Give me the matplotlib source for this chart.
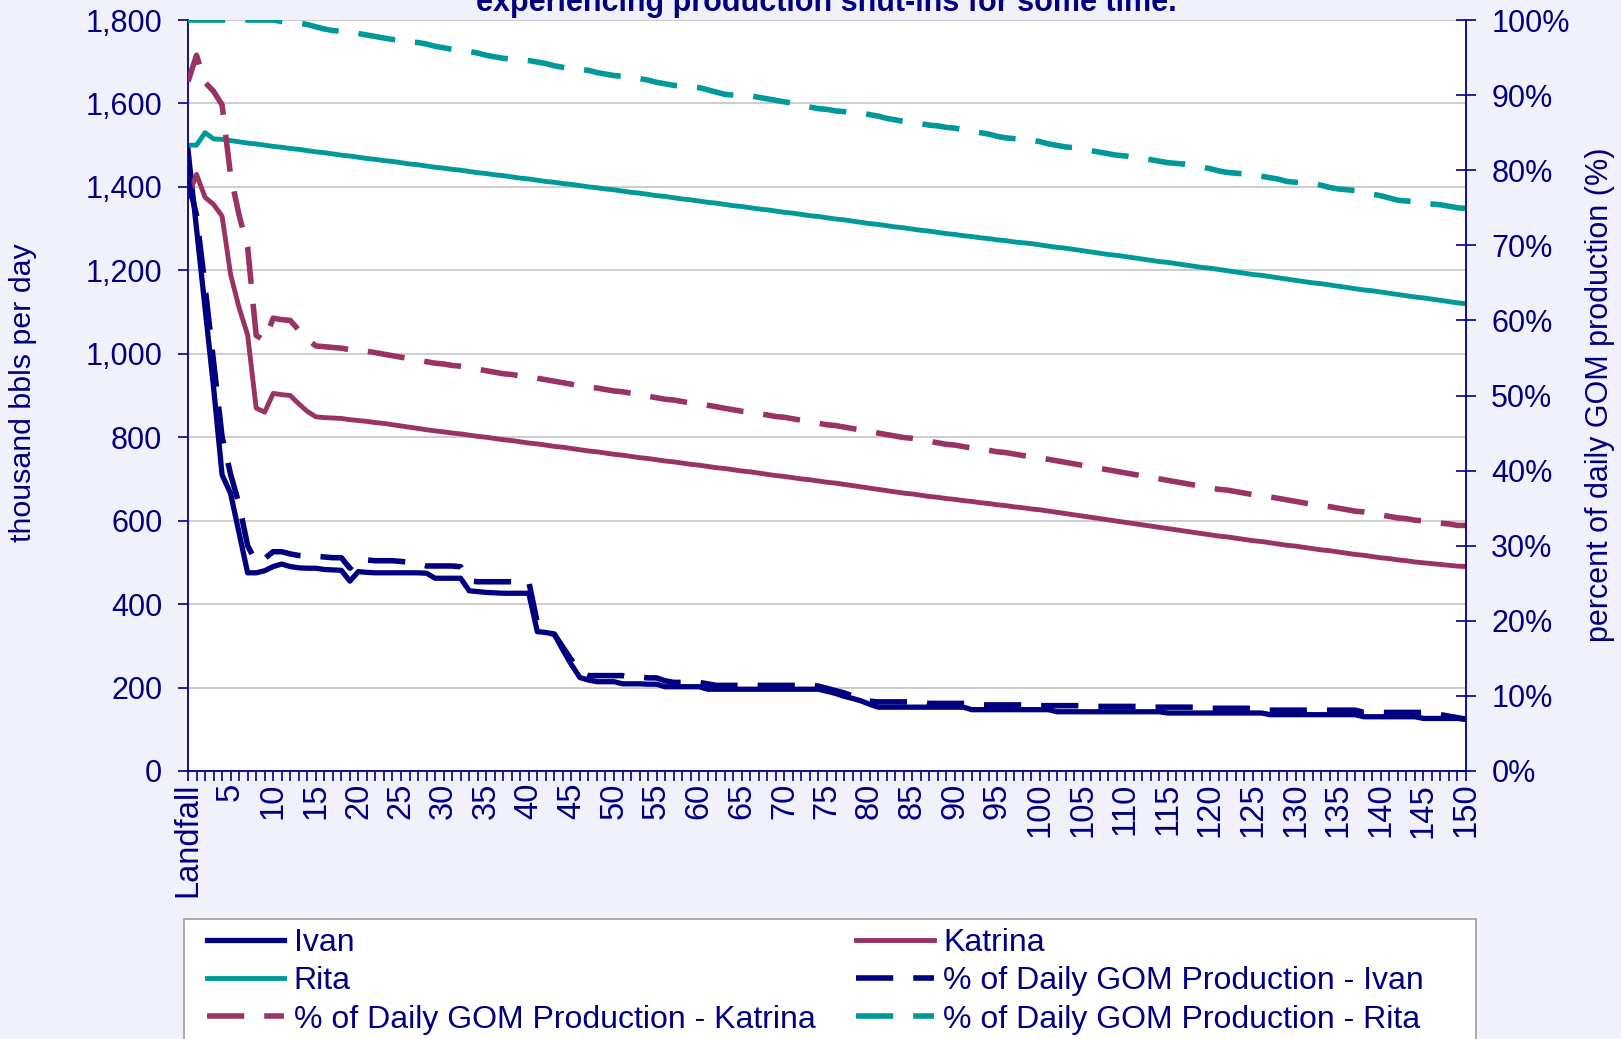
import matplotlib
matplotlib.use('Agg')
import matplotlib.pyplot as plt
from matplotlib.lines import Line2D
from matplotlib.patches import Rectangle

plt.rcParams['font.family'] = ['Liberation Sans', 'DejaVu Sans']

NAVY = '#000080'
PLUM = '#993366'
TEAL = '#009999'
BG = '#F1F1FC'

days = list(range(151))
tick_labels = ['Landfall'] + [str(d) if d % 5 == 0 else '' for d in range(1, 151)]

# thousand bbls per day
ivan = [1490, 1300, 1110, 920, 710, 665, 570, 475, 475, 480,
        490, 496, 490, 487, 486, 486, 483, 482, 481, 455,
        478, 476, 475, 475, 475, 475, 475, 475, 474, 462,
        462, 462, 462, 432, 430, 428, 427, 426, 426, 426,
        426, 334, 332, 328, 290, 255, 224, 218, 214, 214,
        214, 209, 209, 209, 208, 208, 202, 202, 202, 202,
        202, 196, 196, 196, 196, 196, 196, 196, 196, 196,
        196, 196, 196, 196, 196, 191, 186, 179, 174, 168,
        160, 153, 153, 153, 153, 153, 153, 153, 153, 153,
        153, 153, 147, 147, 147, 147, 147, 147, 147, 147,
        147, 147, 142, 142, 142, 142, 142, 142, 142, 142,
        142, 142, 142, 142, 142, 139, 139, 139, 139, 139,
        139, 139, 139, 139, 139, 139, 139, 135, 135, 135,
        135, 135, 135, 135, 135, 135, 135, 135, 130, 130,
        130, 130, 130, 130, 130, 126, 126, 126, 126, 126,
        124]

katrina = [1377, 1430, 1375, 1358, 1330, 1190, 1110, 1045, 870, 860,
           905, 902, 900, 880, 862, 849, 847, 846, 845, 842,
           840, 838, 835, 833, 830, 827, 824, 821, 818, 815,
           813, 810, 808, 805, 802, 800, 797, 794, 792, 789,
           786, 784, 781, 778, 776, 773, 770, 767, 765, 762,
           759, 757, 754, 751, 749, 746, 743, 741, 738, 735,
           733, 730, 727, 725, 722, 719, 717, 714, 711, 708,
           706, 703, 700, 698, 695, 692, 690, 687, 684, 681,
           678, 675, 672, 669, 666, 664, 661, 658, 656, 653,
           651, 648, 646, 643, 641, 638, 636, 633, 631, 628,
           626, 623, 620, 617, 614, 611, 608, 605, 602, 599,
           596, 593, 590, 587, 584, 581, 578, 575, 572, 569,
           566, 563, 561, 558, 555, 552, 550, 547, 544, 541,
           539, 536, 533, 530, 528, 525, 522, 519, 517, 514,
           511, 509, 506, 504, 501, 499, 497, 495, 493, 491,
           490]

rita = [1500, 1500, 1530, 1515, 1514, 1511, 1508, 1505, 1503, 1500,
        1497, 1495, 1492, 1490, 1487, 1484, 1482, 1479, 1476, 1474,
        1471, 1468, 1466, 1463, 1461, 1458, 1455, 1453, 1450, 1447,
        1445, 1442, 1440, 1437, 1434, 1432, 1429, 1427, 1424, 1421,
        1419, 1416, 1413, 1411, 1408, 1406, 1403, 1400, 1398, 1395,
        1393, 1390, 1387, 1385, 1382, 1379, 1377, 1374, 1371, 1369,
        1366, 1363, 1361, 1358, 1355, 1353, 1350, 1347, 1345, 1342,
        1339, 1337, 1334, 1331, 1329, 1326, 1323, 1321, 1318, 1315,
        1312, 1310, 1307, 1304, 1302, 1299, 1296, 1294, 1291, 1288,
        1286, 1283, 1281, 1278, 1276, 1273, 1271, 1268, 1266, 1264,
        1261, 1258, 1255, 1253, 1250, 1247, 1244, 1241, 1238, 1236,
        1233, 1230, 1227, 1224, 1221, 1219, 1216, 1213, 1210, 1207,
        1205, 1202, 1199, 1196, 1193, 1190, 1188, 1185, 1182, 1179,
        1176, 1173, 1170, 1168, 1165, 1162, 1159, 1156, 1153, 1151,
        1148, 1145, 1142, 1139, 1136, 1134, 1131, 1128, 1125, 1122,
        1120]

# percent of daily GOM production
ivan_pct = [78.7, 74.0, 64.5, 54.5, 44.5, 39.5, 35.5, 30.0, 27.8, 28.3,
            29.2, 29.2, 28.9, 28.7, 28.6, 28.6, 28.5, 28.4, 28.4, 27.0,
            28.3, 28.1, 28.0, 28.0, 28.0, 27.9, 27.8, 27.6, 27.3, 27.3,
            27.3, 27.3, 27.2, 25.3, 25.2, 25.2, 25.2, 25.2, 25.2, 25.2,
            25.2, 19.7, 18.5, 18.2, 16.5, 14.8, 13.2, 12.7, 12.7, 12.7,
            12.7, 12.7, 12.5, 12.5, 12.4, 12.4, 12.0, 11.8, 11.8, 11.8,
            11.8, 11.6, 11.4, 11.4, 11.4, 11.4, 11.4, 11.4, 11.4, 11.4,
            11.4, 11.4, 11.4, 11.4, 11.3, 11.0, 10.7, 10.4, 10.0, 9.6,
            9.3, 9.2, 9.2, 9.2, 9.2, 9.2, 9.2, 9.0, 9.0, 9.0,
            9.0, 9.0, 9.0, 8.8, 8.8, 8.8, 8.8, 8.8, 8.8, 8.8,
            8.7, 8.7, 8.7, 8.7, 8.7, 8.7, 8.6, 8.6, 8.6, 8.6,
            8.6, 8.6, 8.6, 8.5, 8.5, 8.5, 8.5, 8.5, 8.5, 8.5,
            8.35, 8.35, 8.35, 8.35, 8.35, 8.35, 8.1, 8.1, 8.1, 8.1,
            8.1, 8.1, 8.1, 8.1, 8.1, 8.1, 8.1, 8.1, 7.8, 7.8,
            7.8, 7.8, 7.8, 7.8, 7.8, 7.8, 7.6, 7.5, 7.3, 7.1,
            6.9]

katrina_pct = [91.8, 95.3, 91.7, 90.5, 88.7, 79.3, 74.0, 69.7, 58.0, 57.3,
               60.3, 60.1, 60.0, 58.7, 57.5, 56.6, 56.5, 56.4, 56.3, 56.1,
               56.0, 55.9, 55.7, 55.5, 55.3, 55.1, 54.9, 54.7, 54.5, 54.3,
               54.2, 54.0, 53.9, 53.7, 53.5, 53.3, 53.1, 52.9, 52.8, 52.6,
               52.4, 52.3, 52.1, 51.9, 51.7, 51.5, 51.3, 51.1, 51.0, 50.8,
               50.6, 50.5, 50.3, 50.1, 49.9, 49.7, 49.5, 49.4, 49.2, 49.0,
               48.9, 48.7, 48.5, 48.3, 48.1, 47.9, 47.8, 47.6, 47.4, 47.2,
               47.1, 46.9, 46.7, 46.5, 46.3, 46.1, 46.0, 45.8, 45.6, 45.4,
               45.2, 45.0, 44.8, 44.6, 44.4, 44.3, 44.1, 43.9, 43.7, 43.5,
               43.4, 43.2, 43.0, 42.9, 42.7, 42.5, 42.4, 42.2, 42.0, 41.9,
               41.7, 41.5, 41.3, 41.1, 40.9, 40.7, 40.5, 40.3, 40.1, 39.9,
               39.7, 39.5, 39.3, 39.1, 38.9, 38.7, 38.5, 38.3, 38.1, 37.9,
               37.7, 37.5, 37.4, 37.2, 37.0, 36.8, 36.7, 36.5, 36.3, 36.1,
               35.9, 35.7, 35.5, 35.3, 35.2, 35.0, 34.8, 34.6, 34.5, 34.3,
               34.1, 33.9, 33.7, 33.6, 33.4, 33.3, 33.1, 33.0, 32.9, 32.7,
               32.7]

rita_pct = [100, 100, 100, 100, 100, 100, 100, 100, 100, 100,
            100, 99.8, 99.7, 99.6, 99.4, 99.1, 98.8, 98.6, 98.5, 98.3,
            98.2, 98.0, 97.8, 97.6, 97.4, 97.3, 97.1, 97.0, 96.8, 96.5,
            96.3, 96.1, 96.0, 95.8, 95.6, 95.3, 95.1, 94.9, 94.8, 94.7,
            94.6, 94.4, 94.2, 93.9, 93.7, 93.5, 93.4, 93.3, 93.0, 92.8,
            92.6, 92.5, 92.3, 92.2, 92.0, 91.7, 91.5, 91.3, 91.2, 91.1,
            91.0, 90.7, 90.4, 90.1, 90.0, 89.9, 89.9, 89.7, 89.5, 89.3,
            89.1, 88.9, 88.6, 88.4, 88.2, 88.1, 87.9, 87.8, 87.7, 87.6,
            87.4, 87.2, 86.9, 86.7, 86.5, 86.3, 86.2, 86.0, 85.9, 85.7,
            85.6, 85.4, 85.2, 85.0, 84.8, 84.5, 84.3, 84.2, 84.1, 84.0,
            83.8, 83.5, 83.3, 83.1, 83.0, 82.8, 82.6, 82.4, 82.2, 82.0,
            81.9, 81.7, 81.6, 81.4, 81.2, 81.0, 80.9, 80.8, 80.6, 80.4,
            80.2, 79.9, 79.7, 79.6, 79.5, 79.4, 79.2, 79.0, 78.8, 78.5,
            78.4, 78.3, 78.2, 78.0, 77.7, 77.5, 77.4, 77.3, 77.0, 76.8,
            76.6, 76.3, 76.0, 75.9, 75.8, 75.7, 75.5, 75.4, 75.2, 75.0,
            74.9]

W, H = 1621, 1039
fig = plt.figure(figsize=(W / 100, H / 100), dpi=100, facecolor=BG)

x0, x1, y0, y1 = 188, 1466, 20, 771
ax = fig.add_axes([x0 / W, 1 - y1 / H, (x1 - x0) / W, (y1 - y0) / H])
ax.set_facecolor('white')
ax2 = ax.twinx()
ax2.set_facecolor('none')

dash = (0, (6.7, 3.6))
solid_lw = 3.5
dash_lw = 4.0

ax.plot(days, ivan, color=NAVY, lw=3.8, label='Ivan')
ax.plot(days, katrina, color=PLUM, lw=solid_lw, label='Katrina')
ax.plot(days, rita, color=TEAL, lw=solid_lw, label='Rita')
ax2.plot(days, ivan_pct, color=NAVY, lw=dash_lw, ls=dash, dash_capstyle='butt')
ax2.plot(days, katrina_pct, color=PLUM, lw=dash_lw, ls=dash, dash_capstyle='butt')
ax2.plot(days, rita_pct, color=TEAL, lw=dash_lw, ls=dash, dash_capstyle='butt')

ax.set_xlim(0, 150)
ax.set_ylim(0, 1800)
ax2.set_ylim(0, 100)

ax.set_yticks(range(0, 1801, 200))
ax.set_yticklabels([f'{v:,}' for v in range(0, 1801, 200)])
ax2.set_yticks(range(0, 101, 10))
ax2.set_yticklabels([f'{v}%' for v in range(0, 101, 10)])
ax.set_xticks(days)
ax.set_xticklabels(tick_labels)

ax.yaxis.grid(True, color='#C0C0C0', lw=1.1)
ax.set_axisbelow(True)

for s in ['top', 'right']:
    ax.spines[s].set_visible(False)
for s in ['top', 'left', 'bottom']:
    ax2.spines[s].set_visible(False)
for s in ['left', 'bottom']:
    ax.spines[s].set_color(NAVY)
    ax.spines[s].set_linewidth(1.3)
ax2.spines['right'].set_color(NAVY)
ax2.spines['right'].set_linewidth(1.3)

ax.tick_params(axis='y', direction='out', length=7, width=1.2, color=NAVY,
               labelcolor=NAVY, labelsize=22, pad=11.5)
ax.tick_params(axis='x', direction='out', length=7, width=1.2, color=NAVY,
               labelcolor=NAVY, labelsize=23.5, pad=1.5, labelrotation=90)
ax2.tick_params(axis='y', direction='inout', length=14.4, width=1.2, color=NAVY,
                labelcolor=NAVY, labelsize=22, pad=11)

fig.text(826 / W, 1 - 11.5 / H, 'experiencing production shut-ins for some time.',
         ha='center', va='baseline', fontsize=22, fontweight='bold', color=NAVY)
fig.text(23 / W, 1 - 393 / H, 'thousand bbls per day', rotation=90,
         ha='center', va='center', fontsize=21.9, color=NAVY)
fig.text(1600 / W, 1 - 395 / H, 'percent of daily GOM production (%)', rotation=90,
         ha='center', va='center', fontsize=22, color=NAVY)

# legend box
fig.add_artist(Rectangle((184 / W, -0.05), (1476 - 184) / W, (1 - 919 / H) + 0.05,
                         transform=fig.transFigure, facecolor='white',
                         edgecolor='#A0A0A0', lw=1.2, zorder=1))

def h(color, ls):
    if ls == 'solid':
        return Line2D([], [], color=color, lw=3.8 if color == NAVY else solid_lw)
    return Line2D([], [], color=color, lw=dash_lw, ls=dash, dash_capstyle='butt')

col1 = [(h(NAVY, 'solid'), 'Ivan'), (h(TEAL, 'solid'), 'Rita'),
        (h(PLUM, 'dash'), '% of Daily GOM Production - Katrina')]
col2 = [(h(PLUM, 'solid'), 'Katrina'), (h(NAVY, 'dash'), '% of Daily GOM Production - Ivan'),
        (h(TEAL, 'dash'), '% of Daily GOM Production - Rita')]

for col, xpos in [(col1, 206.8), (col2, 856)]:
    leg = fig.legend([c[0] for c in col], [c[1] for c in col], loc='upper left',
                     bbox_to_anchor=(xpos / W, 1 - 928 / H), frameon=False,
                     fontsize=23, borderpad=0, borderaxespad=0, handlelength=2.43,
                     handletextpad=0.29, labelspacing=0.26)
    for t in leg.get_texts():
        t.set_color(NAVY)

fig.savefig('out.png', dpi=100, facecolor=BG)
